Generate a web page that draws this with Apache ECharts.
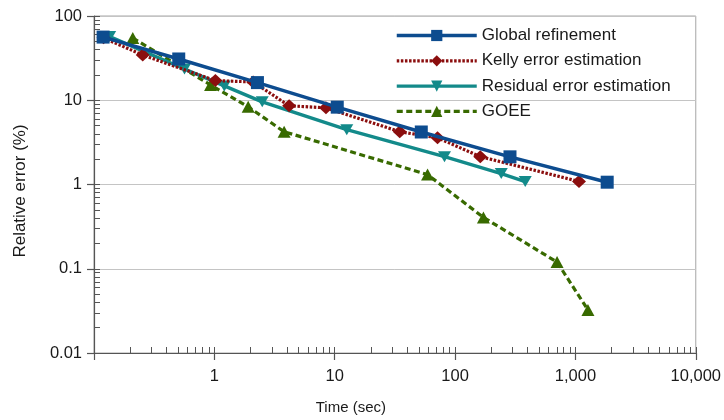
<!DOCTYPE html>
<html>
<head>
<meta charset="utf-8">
<script src="https://cdn.jsdelivr.net/npm/echarts@6/dist/echarts.min.js"></script>
<style>
  html, body { margin: 0; padding: 0; background: #fff; }
  #chart { width: 724px; height: 420px; }
</style>
</head>
<body>
<div id="chart"></div>
<script>
// Run time (s) versus relative error (%) for four refinement strategies
const seriesNames = ['Global refinement', 'Kelly error estimation', 'Residual error estimation', 'GOEE'];

const globalTime = [0.119, 0.506, 2.28, 10.5, 52.4, 286, 1837];
const globalErr  = [56.2, 30.9, 16.2, 8.28, 4.20, 2.13, 1.065];

const kellyTime = [0.12, 0.254, 1.02, 2.10, 4.18, 8.46, 34.7, 71.5, 162, 1071];
const kellyErr  = [55, 34.4, 17.1, 16.5, 8.59, 8.13, 4.23, 3.59, 2.14, 1.085];

const residualTime = [0.135, 0.565, 1.21, 2.50, 12.6, 81.7, 242, 383];
const residualErr  = [57, 23.5, 14.8, 9.57, 4.47, 2.14, 1.35, 1.085];

const goeeTime = [0.21, 0.93, 1.91, 3.80, 59.1, 172, 704, 1271];
const goeeErr  = [54.7, 15.2, 8.36, 4.23, 1.31, 0.407, 0.120, 0.0324];

// Axis ticks and labels
const xMajorTicks = [0.1, 1, 10, 100, 1000, 10000];
const xTickLabels = [1, 10, 100, 1000, 10000];
const yMajorTicks = [0.01, 0.1, 1, 10, 100];
const yTickLabels = [0.01, 0.1, 1, 10, 100];

// Majors plus the 2..9 minor ticks of every decade
function withMinor(majors) {
  const out = [];
  for (let i = 0; i < majors.length; i++) {
    out.push(majors[i]);
    if (i < majors.length - 1) {
      for (let k = 2; k <= 9; k++) out.push(+(majors[i] * k).toPrecision(6));
    }
  }
  return out;
}
const xAllTicks = withMinor(xMajorTicks);
const yAllTicks = withMinor(yMajorTicks);

const pairs = (xs, ys) => xs.map((x, i) => [x, ys[i]]);

const FONT = 'Liberation Sans';
const AXIS_COLOR = '#555';
const TEXT_COLOR = '#1a1a1a';

const chart = echarts.init(document.getElementById('chart'), null, { renderer: 'canvas' });

const option = {
  animation: false,
  backgroundColor: '#fff',
  textStyle: { fontFamily: FONT },
  grid: {
    left: 94, right: 26, top: 16, bottom: 66,
    show: true, borderColor: '#a6a6a6', borderWidth: 1, backgroundColor: 'transparent'
  },
  legend: {
    data: seriesNames,
    orient: 'vertical',
    left: 390, top: 22,
    itemWidth: 80, itemHeight: 14, itemGap: 8.3,
    lineStyle: { width: 'inherit', type: 'inherit' },
    textStyle: { fontFamily: FONT, fontSize: 17, color: TEXT_COLOR }
  },
  xAxis: [
    {
      type: 'log', logBase: 10, min: 0.1, max: 10000, position: 'bottom',
      axisLine: { lineStyle: { color: AXIS_COLOR, width: 1.2 } },
      axisTick: { show: true, inside: false, length: 7, customValues: xMajorTicks,
                  lineStyle: { color: AXIS_COLOR, width: 1.2 } },
      axisLabel: {
        customValues: xTickLabels, margin: 15, fontSize: 16.5, color: TEXT_COLOR, fontFamily: FONT,
        formatter: v => Number(v).toLocaleString('en-US')
      },
      splitLine: { show: false },
      minorTick: { show: false },
      name: 'Time (sec)', nameLocation: 'middle', nameGap: 47,
      nameTextStyle: { fontSize: 15, color: TEXT_COLOR, fontFamily: FONT, padding: [0, 88, 0, 0] }
    },
    {
      type: 'log', logBase: 10, min: 0.1, max: 10000, position: 'bottom',
      axisLine: { show: false },
      axisTick: { show: true, inside: true, length: 6, customValues: xAllTicks,
                  lineStyle: { color: AXIS_COLOR, width: 1 } },
      axisLabel: { show: false },
      splitLine: { show: false }
    }
  ],
  yAxis: [
    {
      type: 'log', logBase: 10, min: 0.01, max: 100, position: 'left',
      axisLine: { show: true, lineStyle: { color: AXIS_COLOR, width: 1.2 } },
      axisTick: { show: true, inside: false, length: 7, customValues: yMajorTicks,
                  lineStyle: { color: AXIS_COLOR, width: 1.2 } },
      axisLabel: {
        customValues: yTickLabels, margin: 12, fontSize: 16.5, color: TEXT_COLOR, fontFamily: FONT,
        formatter: v => String(+Number(v).toPrecision(6))
      },
      splitLine: { show: true, lineStyle: { color: '#c4c4c4', width: 1 } },
      name: 'Relative error (%)', nameLocation: 'middle', nameGap: 65, nameRotate: 90,
      nameTextStyle: { fontSize: 17, color: TEXT_COLOR, fontFamily: FONT, padding: [0, 13, 0, 0] }
    },
    {
      type: 'log', logBase: 10, min: 0.01, max: 100, position: 'left',
      axisLine: { show: false },
      axisTick: { show: true, inside: true, length: 6, customValues: yAllTicks,
                  lineStyle: { color: AXIS_COLOR, width: 1 } },
      axisLabel: { show: false },
      splitLine: { show: false }
    }
  ],
  series: [
    {
      name: 'GOEE', type: 'line', data: pairs(goeeTime, goeeErr),
      symbol: 'triangle', symbolSize: [13, 12],
      lineStyle: { color: '#386a00', width: 3.2, type: [6, 3.5] },
      itemStyle: { color: '#386a00' }, z: 2
    },
    {
      name: 'Residual error estimation', type: 'line', data: pairs(residualTime, residualErr),
      symbol: 'triangle', symbolRotate: 180, symbolSize: [13, 11],
      lineStyle: { color: '#138a8a', width: 3.4 },
      itemStyle: { color: '#138a8a' }, z: 3
    },
    {
      name: 'Kelly error estimation', type: 'line', data: pairs(kellyTime, kellyErr),
      symbol: 'diamond', symbolSize: [14, 13],
      lineStyle: { color: '#8b0e0e', width: 3.2, type: [2.5, 1.6] },
      itemStyle: { color: '#8b0e0e' }, z: 4
    },
    {
      name: 'Global refinement', type: 'line', data: pairs(globalTime, globalErr),
      symbol: 'rect', symbolSize: 13,
      lineStyle: { color: '#0d4c8f', width: 3.5 },
      itemStyle: { color: '#0d4c8f' }, z: 5
    }
  ]
};

chart.setOption(option);
</script>
</body>
</html>
